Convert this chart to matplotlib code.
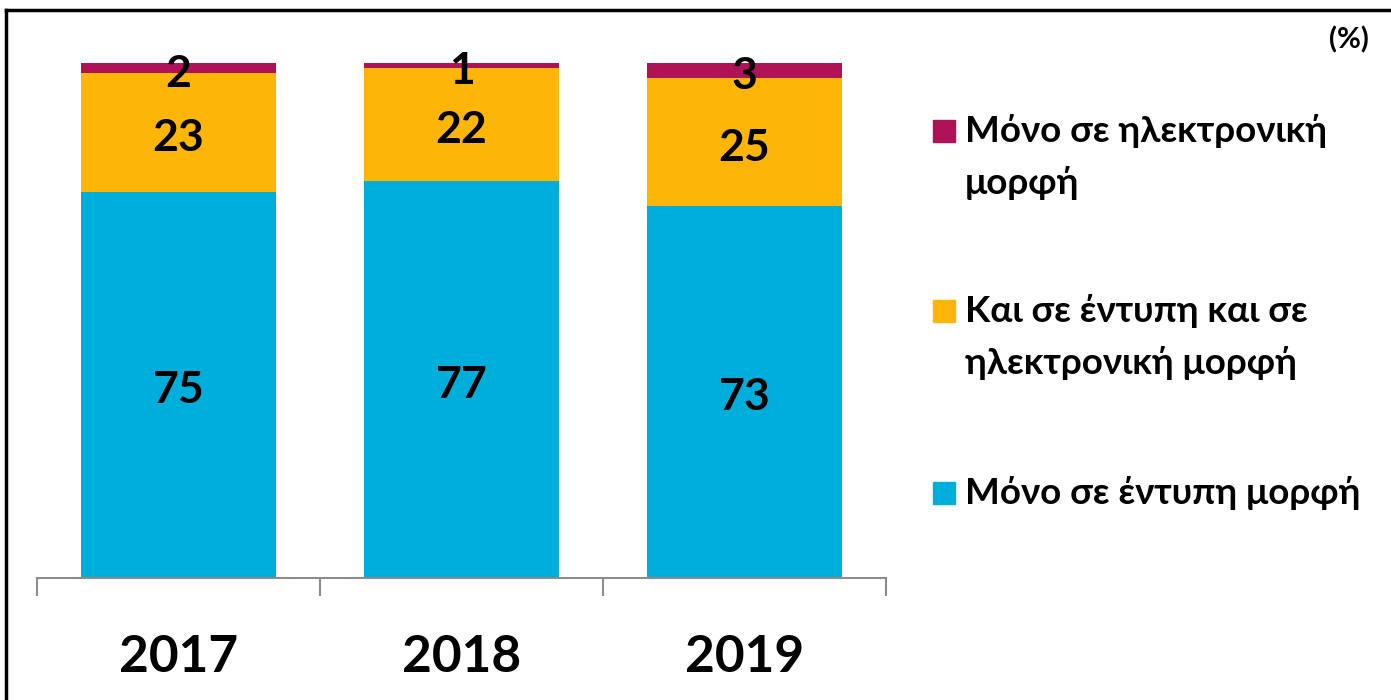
import numpy as np
import matplotlib.pyplot as plt
from matplotlib.lines import Line2D
from matplotlib.patches import Rectangle

plt.rcParams['font.family'] = ['Lato', 'Open Sans', 'DejaVu Sans']
plt.rcParams['font.weight'] = 'bold'

years = ['2017', '2018', '2019']
series = ['Μόνο σε έντυπη μορφή',
          'Και σε έντυπη και σε\nηλεκτρονική μορφή',
          'Μόνο σε ηλεκτρονική\nμορφή']
print_only = [75, 77, 73]
both = [23, 22, 25]
online_only = [2, 1, 3]
colors = ['#00AEDB', '#FDB507', '#B01257']

values = np.array([print_only, both, online_only], dtype=float)
shares = values / values.sum(axis=0) * 100

fig = plt.figure(figsize=(13.91, 7), dpi=100)
ax = fig.add_axes([37 / 1391, 122 / 700, 849 / 1391, 515 / 700])

x = np.arange(len(years))
bottom = np.zeros(len(years))
for vals, raw, col in zip(shares, values, colors):
    ax.bar(x, vals, 0.69, bottom=bottom, color=col)
    for xi, b, v, r in zip(x, bottom, vals, raw):
        ax.annotate('%d' % r, (xi, b + v / 2), xytext=(0, -4), textcoords='offset points',
                    ha='center', va='center', fontsize=32, fontweight='bold')
    bottom += vals

ax.set_xlim(-0.5, 2.5)
ax.set_ylim(0, 100)
for s in ['top', 'right', 'left']:
    ax.spines[s].set_visible(False)
ax.spines['bottom'].set_color('#8c8c8c')
ax.spines['bottom'].set_linewidth(1.5)
ax.set_yticks([])
ax.set_xticks([-0.5, 0.5, 1.5, 2.5])
ax.set_xticklabels([])
ax.tick_params(axis='x', which='major', length=13, width=1.5, color='#8c8c8c')
ax.set_xticks(x, minor=True)
ax.set_xticklabels(years, minor=True, fontsize=37, fontweight='bold')
ax.tick_params(axis='x', which='minor', length=0, pad=40)

# legend drawn by hand so the swatch sits on the first line
leg_y = [493, 311, 131]
for lab, col, yc in zip(series, colors, leg_y):
    fig.patches.append(Rectangle((933 / 1391, 1 - (yc + 11) / 700), 22 / 1391, 22 / 700,
                                 transform=fig.transFigure, color=col))
    fig.text(965 / 1391, 1 - (yc - 17) / 700, lab, ha='left', va='top',
             fontsize=26.5, fontweight='bold', linespacing=1.65)

fig.text(1369 / 1391, 1 - 40 / 700, '(%)', ha='right', va='center',
         fontsize=21, fontweight='bold')

# frame lines at top and left
fig.add_artist(Line2D([6 / 1391, 1], [1 - 10 / 700] * 2, color='black', lw=2.5,
                      transform=fig.transFigure))
fig.add_artist(Line2D([6 / 1391] * 2, [0, 1 - 10 / 700], color='black', lw=2.5,
                      transform=fig.transFigure))

fig.savefig('out.png', dpi=100)
